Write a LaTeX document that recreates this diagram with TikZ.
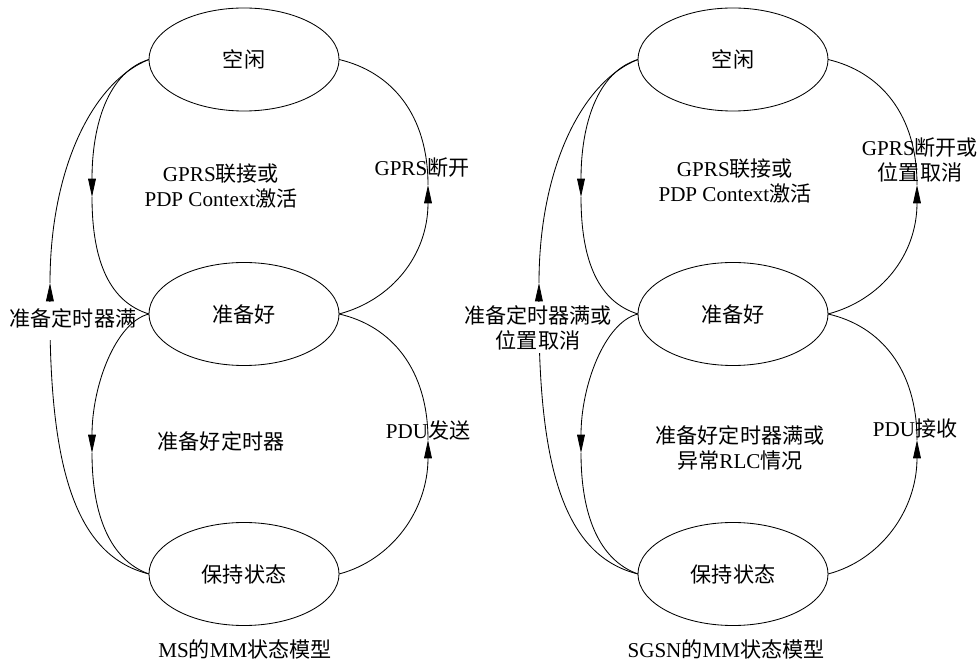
\documentclass[tikz,border=0pt]{standalone}
\usepackage{fontspec}
\setmainfont{Liberation Serif}
\newfontfamily\cjk{Noto Sans CJK SC}
\usetikzlibrary{shapes.geometric,arrows.meta}
\newcommand{\zh}[1]{{\cjk #1}}
\begin{document}
\begin{tikzpicture}[x=0.025cm,y=-0.025cm,
  line width=0.6pt,
  txt/.style={font=\fontsize{15}{18}\selectfont, align=center, inner sep=0pt},
  mmstate/.style={ellipse, draw, minimum width=4.75cm, minimum height=2.575cm,
    inner sep=0pt, outer sep=0pt, font=\fontsize{15}{18}\selectfont},
  tip/.style={-{Triangle[length=13pt,width=5.5pt]}}
]
\useasboundingbox (0,0) rectangle (980,661);

% one state model per pass: \s = name suffix, \dx = horizontal offset
\foreach \s/\dx in {A/0,B/489}{
\begin{scope}[xshift=\dx*0.025cm]
\node[mmstate] (idle\s)  at (244,59.5) {\zh{空闲}};
\node[mmstate] (ready\s) at (244,314)  {\zh{准备好}};
\node[mmstate] (stby\s)  at (244,574)  {\zh{保持状态}};

% arrow tip points on the connectors
\coordinate (t1\s) at (92,197);
\coordinate (t2\s) at (428,185);
\coordinate (t3\s) at (92,453);
\coordinate (t4\s) at (428,440);
\coordinate (t5\s) at (50,283);

% idle -> ready
\draw[tip] (idle\s.west) .. controls (108,72) and (92,125) .. (t1\s);
\draw (t1\s) .. controls (92,262) and (110,302) .. (ready\s.west);
% ready -> idle
\draw[tip] (ready\s.east) .. controls (392,300) and (428,255) .. (t2\s);
\draw (t2\s) .. controls (428,115) and (392,72) .. (idle\s.east);
% ready -> standby
\draw[tip] (ready\s.west) .. controls (116,322) and (92,385) .. (t3\s);
\draw (t3\s) .. controls (92,515) and (110,560) .. (stby\s.west);
% standby -> ready
\draw[tip] (stby\s.east) .. controls (392,560) and (428,510) .. (t4\s);
\draw (t4\s) .. controls (428,370) and (392,326) .. (ready\s.east);
% standby -> idle
\draw[tip] (stby\s.west) .. controls (72,555) and (49,460) .. (t5\s);
\draw (t5\s) .. controls (50,170) and (92,82) .. (idle\s.west);
\end{scope}
}

% breaks in the outer connectors behind their labels
\fill[white] (43,302) rectangle (57,340);
\fill[white] (532,302) rectangle (546,353);

% ---------- MS labels ----------
\node[txt] (lA1) at (221,186) {GPRS\zh{联接或}\\PDP Context\zh{激活}};
\node[txt] (lA2) at (422,168) {GPRS\zh{断开}};
\node[txt] (lA3) at (221,441) {\zh{准备好定时器}};
\node[txt] (lA4) at (428,430) {PDU\zh{发送}};
\node[txt] (lA5) at (73,318) {\zh{准备定时器满}};
\node[txt] (capA) at (245,649) {MS\zh{的}MM\zh{状态模型}};

% ---------- SGSN labels ----------
\node[txt] (lB1) at (735,181) {GPRS\zh{联接或}\\PDP Context\zh{激活}};
\node[txt] (lB2) at (920,160) {GPRS\zh{断开或}\\\zh{位置取消}};
\node[txt] (lB3) at (740,448) {\zh{准备好定时器满或}\\\zh{异常}RLC\zh{情况}};
\node[txt] (lB4) at (915,429) {PDU\zh{接收}};
\node[txt] (lB5) at (538,328) {\zh{准备定时器满或}\\\zh{位置取消}};
\node[txt] (capB) at (726,649) {SGSN\zh{的}MM\zh{状态模型}};
\end{tikzpicture}
\end{document}
